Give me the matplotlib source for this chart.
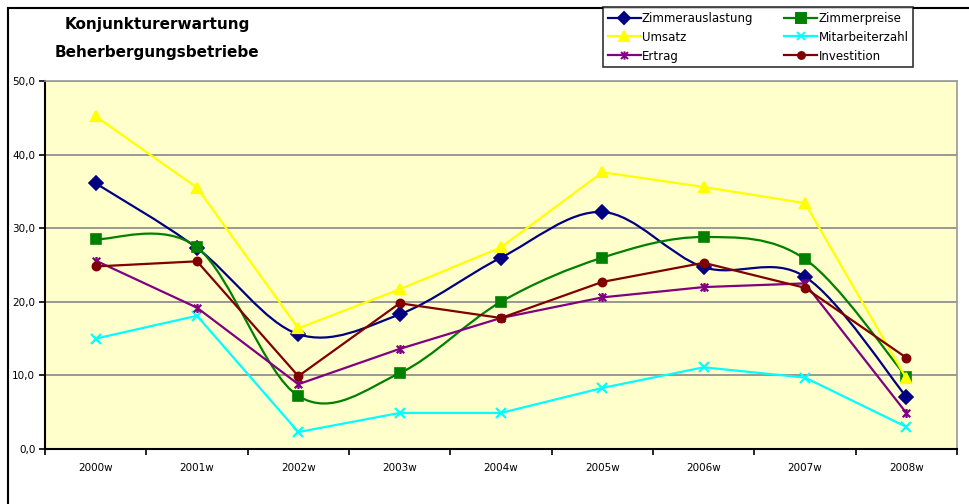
import numpy as np
import matplotlib
matplotlib.use('Agg')
import matplotlib.pyplot as plt
from matplotlib.path import Path
from matplotlib.patches import PathPatch
from matplotlib.lines import Line2D

# Daten
jahre = ['2000w', '2001w', '2002w', '2003w', '2004w', '2005w', '2006w', '2007w', '2008w']
zimmerauslastung = [36.1, 27.3, 15.6, 18.3, 26.0, 32.2, 24.7, 23.4, 7.1]
zimmerpreise = [28.5, 27.4, 7.2, 10.3, 20.0, 26.0, 28.8, 25.8, 9.8]
umsatz = [45.2, 35.5, 16.4, 21.7, 27.4, 37.6, 35.6, 33.4, 9.6]
mitarbeiterzahl = [15.0, 18.1, 2.3, 4.9, 4.9, 8.3, 11.1, 9.7, 3.0]
ertrag = [25.6, 19.2, 8.8, 13.6, 17.8, 20.6, 22.0, 22.5, 4.9]
investition = [24.8, 25.5, 9.9, 19.8, 17.8, 22.7, 25.3, 21.9, 12.4]

W, H = 969, 504
fig = plt.figure(figsize=(W / 100, H / 100), dpi=100)

# Rahmen des Diagramms (links und oben)
fig.add_artist(Line2D([8 / W, 8 / W], [0, 1 - 8 / H], transform=fig.transFigure, color='black', lw=1.5))
fig.add_artist(Line2D([8 / W, 1], [1 - 8 / H, 1 - 8 / H], transform=fig.transFigure, color='black', lw=1.5))

ax = fig.add_axes([45 / W, (H - 449) / H, 912 / W, 368 / H])
ax.set_facecolor('#FFFFCC')
x = np.arange(len(jahre))

stern = Path([(-1, -1), (1, 1), (-1, 1), (1, -1), (0, -1.2), (0, 1.2)],
             [Path.MOVETO, Path.LINETO, Path.MOVETO, Path.LINETO, Path.MOVETO, Path.LINETO])


def glatt(ax, xs, ys, color):
    # Excel-artige Glaettung (Bezier durch die Punkte)
    pts = np.column_stack([xs, ys]).astype(float)
    verts = [tuple(pts[0])]
    codes = [Path.MOVETO]
    n = len(pts)
    for i in range(n - 1):
        p0 = pts[i - 1] if i > 0 else pts[i]
        p1 = pts[i]
        p2 = pts[i + 1]
        p3 = pts[i + 2] if i + 2 < n else pts[i + 1]
        c1 = p1 + (p2 - p0) / 6
        c2 = p2 - (p3 - p1) / 6
        verts += [tuple(c1), tuple(c2), tuple(p2)]
        codes += [Path.CURVE4] * 3
    ax.add_patch(PathPatch(Path(verts, codes), facecolor='none', edgecolor=color, lw=1.6, zorder=3))


serien = [
    ('Zimmerauslastung', zimmerauslastung, '#000080', 'D', 7, True),
    ('Zimmerpreise', zimmerpreise, '#008000', 's', 7, True),
    ('Umsatz', umsatz, '#FFFF00', '^', 7, False),
    ('Mitarbeiterzahl', mitarbeiterzahl, '#00FFFF', 'x', 6.5, False),
    ('Ertrag', ertrag, '#800080', stern, 6.5, False),
    ('Investition', investition, '#800000', 'o', 5.5, False),
]

handles = []
for name, werte, farbe, marker, ms, smooth in serien:
    if smooth:
        glatt(ax, x, werte, farbe)
        ax.plot(x, werte, linestyle='none', marker=marker, ms=ms, color=farbe,
                mec=farbe, mew=1.2, zorder=4)
    else:
        ax.plot(x, werte, '-', marker=marker, ms=ms, color=farbe, lw=1.6,
                mec=farbe, mew=1.6, zorder=4)
    handles.append(Line2D([], [], color=farbe, lw=1.6, marker=marker, ms=ms - 0.5,
                          mec=farbe, mew=1.4, label=name))

# Legende zeilenweise wie im Original
handles = [handles[0], handles[2], handles[4], handles[1], handles[3], handles[5]]

ax.set_xlim(-0.5, len(jahre) - 0.5)
ax.set_ylim(0, 50)
ax.set_yticks(np.arange(0, 51, 10))
ax.set_yticklabels([f'{v:.1f}'.replace('.', ',') for v in np.arange(0, 51, 10)], fontsize=7.5)
ax.yaxis.grid(True, color='#888888', lw=1.2)
ax.set_axisbelow(True)

ax.set_xticks(np.arange(-0.5, len(jahre), 1))
ax.set_xticklabels([])
ax.set_xticks(x, minor=True)
ax.set_xticklabels(jahre, minor=True, fontsize=7.5)
ax.tick_params(axis='x', which='minor', length=0, pad=10)
ax.tick_params(axis='x', which='major', length=4, width=1.2, direction='out')
ax.tick_params(axis='y', length=4, width=1.2, direction='out', pad=3)

for s in ['top', 'right']:
    ax.spines[s].set_color('#999999')
    ax.spines[s].set_linewidth(1.2)
for s in ['left', 'bottom']:
    ax.spines[s].set_color('black')
    ax.spines[s].set_linewidth(1.5)

# Titel
fig.text(157 / W, 1 - 25 / H, 'Konjunkturerwartung', ha='center', va='center',
         fontsize=11, fontweight='bold')
fig.text(157 / W, 1 - 52 / H, 'Beherbergungsbetriebe', ha='center', va='center',
         fontsize=11, fontweight='bold')

leg = fig.legend(handles=handles, loc='upper left', bbox_to_anchor=(603 / W, 1 - 7 / H),
                 ncol=2, fontsize=8.5, frameon=True, fancybox=False, edgecolor='black',
                 handlelength=2.8, handletextpad=0.1, columnspacing=2.6, labelspacing=0.5,
                 borderpad=0.4, borderaxespad=0)
leg.get_frame().set_linewidth(1.2)

plt.savefig('out.png', dpi=100)
plt.close()
